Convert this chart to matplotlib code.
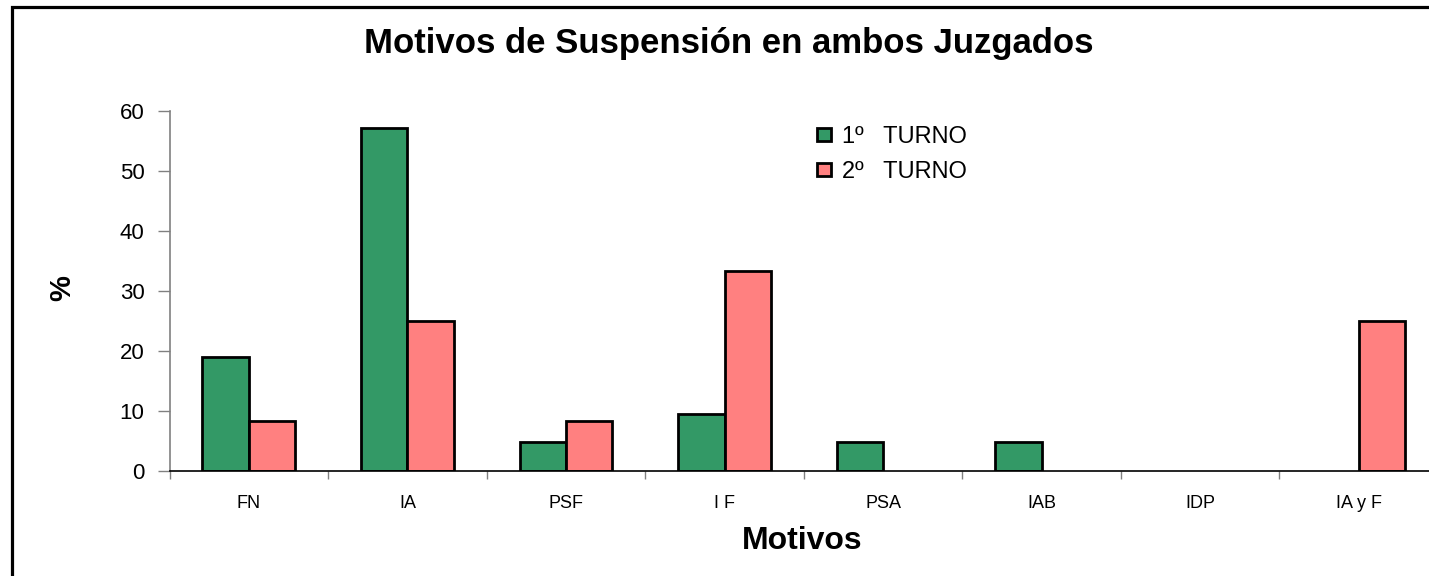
import matplotlib
matplotlib.use("Agg")
import matplotlib.pyplot as plt
import numpy as np
from matplotlib.patches import Rectangle
from matplotlib.ticker import FixedLocator

categories = ["FN", "IA", "PSF", "I F", "PSA", "IAB", "IDP", "IA y F"]
turno1 = [19.05, 57.14, 4.76, 9.52, 4.76, 4.76, 0.0, 0.0]
turno2 = [8.33, 25.0, 8.33, 33.33, 0.0, 0.0, 0.0, 25.0]
series_labels = ["1º   TURNO", "2º   TURNO"]
yticks = [0, 10, 20, 30, 40, 50, 60]

plt.rcParams['font.family'] = ['Liberation Sans', 'DejaVu Sans']

W, H = 1429, 576
fig = plt.figure(figsize=(W / 100, H / 100), dpi=100)

# outer chart border (cropped at right/bottom in reference)
fig.patches.append(Rectangle((11.5 / W, -0.1), 1.2, 1 - 6.5 / H + 0.1,
                             transform=fig.transFigure, fill=False,
                             edgecolor="black", linewidth=2.3, zorder=10))

left, right, bottom, top = 169.6, 1438.0, 471.0, 111.0
ax = fig.add_axes([left / W, 1 - bottom / H, (right - left) / W, (bottom - top) / H])

x = np.arange(len(categories))
w = 0.293
lw1 = [2.0 if v > 0 else 0 for v in turno1]
lw2 = [2.0 if v > 0 else 0 for v in turno2]
ax.bar(x - w / 2, turno1, w, color="#339966", edgecolor="black", linewidth=lw1,
       label=series_labels[0])
ax.bar(x + w / 2, turno2, w, color="#FF8080", edgecolor="black", linewidth=lw2,
       label=series_labels[1])

ax.set_xlim(-0.5, len(categories) - 0.5)
ax.set_ylim(0, 60)
ax.set_yticks(yticks)
ax.set_yticklabels([str(v) for v in yticks], fontsize=16)
ax.set_xticks(x)
ax.set_xticklabels(categories, fontsize=13)
ax.xaxis.set_minor_locator(FixedLocator(np.arange(-0.5, len(categories), 1.0)))
ax.tick_params(axis="x", which="major", length=0, pad=17)
ax.tick_params(axis="x", which="minor", length=6, width=1, color="#808080", direction="out")
ax.tick_params(axis="y", length=9, width=1, color="#808080", pad=9)

for s in ["top", "right"]:
    ax.spines[s].set_visible(False)
ax.spines["left"].set_color("#808080")
ax.spines["left"].set_linewidth(1.2)
ax.spines["bottom"].set_color("black")
ax.spines["bottom"].set_linewidth(1.2)

fig.text(729 / W, 1 - 43 / H, "Motivos de Suspensión en ambos Juzgados",
         ha="center", va="center", fontsize=25, fontweight="bold")
fig.text(802 / W, 1 - 541 / H, "Motivos", ha="center", va="center",
         fontsize=23, fontweight="bold")
fig.text(62 / W, 1 - 288 / H, "%", ha="center", va="center", rotation=90,
         fontsize=21, fontweight="bold")

leg = ax.legend(loc="upper left", bbox_to_anchor=(805 / W, 1 - 114 / H),
                bbox_transform=fig.transFigure, frameon=False, fontsize=17,
                handlelength=0.6, handleheight=0.5, handletextpad=0.45,
                labelspacing=0.55, borderpad=0)
for h in leg.legend_handles:
    h.set_linewidth(2.0)

fig.savefig("out.png", dpi=100)
